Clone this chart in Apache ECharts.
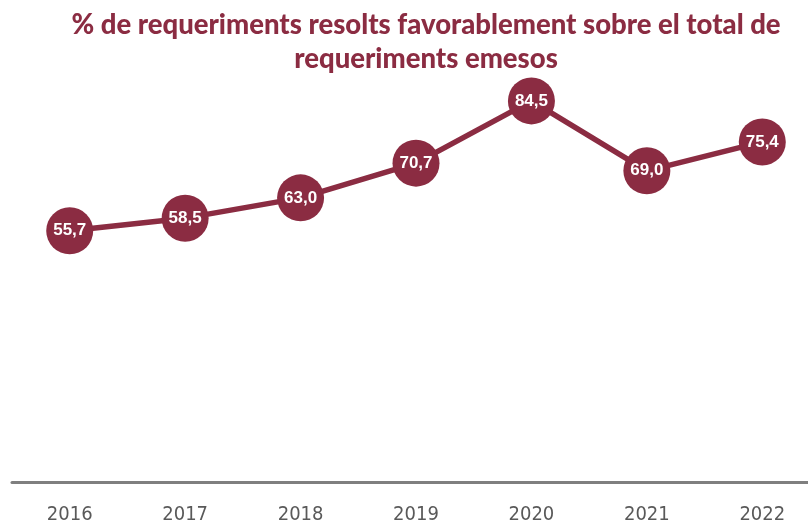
<!DOCTYPE html>
<html>
<head>
<meta charset="utf-8">
<script src="https://cdn.jsdelivr.net/npm/echarts@6/dist/echarts.min.js"></script>
<style>
  html, body { margin: 0; padding: 0; background: #ffffff; overflow: hidden; }
  #chart { width: 820px; height: 525px; }
</style>
</head>
<body>
<div id="chart"></div>
<script>
// Years and share (%) of requirements resolved favourably
const years = ['2016', '2017', '2018', '2019', '2020', '2021', '2022'];
const favourableShare = [55.7, 58.5, 63.0, 70.7, 84.5, 69.0, 75.4];

const wine = '#8B2C42';

const chart = echarts.init(document.getElementById('chart'), null, { renderer: 'canvas' });

chart.setOption({
  animation: false,
  backgroundColor: '#ffffff',
  title: {
    text: '% de requeriments resolts favorablement sobre el total de\nrequeriments emesos',
    left: 421,
    top: 3,
    textAlign: 'center',
    textStyle: {
      color: wine,
      fontFamily: 'Lato',
      fontWeight: 900,
      fontSize: 27.5,
      lineHeight: 34
    }
  },
  grid: { left: 12, top: 31, right: 0, height: 451, containLabel: false },
  xAxis: {
    type: 'category',
    data: years,
    boundaryGap: true,
    axisLine: { show: true, lineStyle: { color: '#7f7f7f', width: 3 } },
    axisTick: { show: false },
    axisLabel: {
      color: '#595959',
      fontFamily: "'Liberation Sans Narrow', 'DejaVu Sans Condensed', Roboto, sans-serif",
      fontSize: 20,
      margin: 23
    },
    splitLine: { show: false }
  },
  yAxis: {
    type: 'value',
    min: 0,
    max: 100,
    show: false
  },
  series: [{
    type: 'line',
    data: favourableShare,
    symbol: 'circle',
    symbolSize: 47,
    lineStyle: { color: wine, width: 5.5 },
    itemStyle: { color: wine },
    label: {
      show: true,
      position: 'inside',
      color: '#ffffff',
      fontFamily: "'Liberation Sans', Arial, sans-serif",
      fontWeight: 'bold',
      fontSize: 17,
      formatter: p => p.value.toFixed(1).replace('.', ',')
    }
  }]
});
</script>
</body>
</html>
